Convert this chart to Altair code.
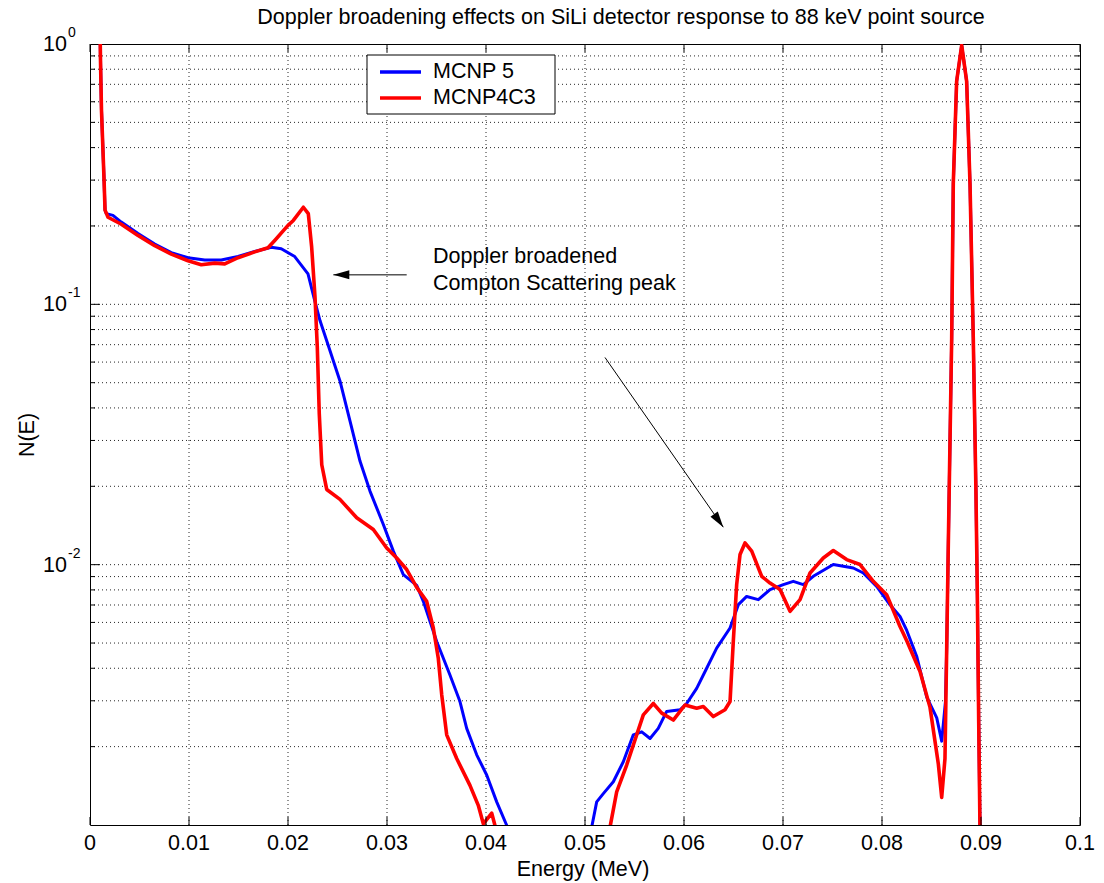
import altair as alt
import pandas as pd

FONT = "Liberation Sans"

# ---------------- data ----------------
title_text = "Doppler broadening effects on SiLi detector response to 88 keV point source"
x_title = "Energy (MeV)"
y_title = "N(E)"
series_names = ["MCNP 5", "MCNP4C3"]
series_colors = ["#0000ff", "#ff0000"]

# MCNP 5 (blue), two visible pieces
blue_x1 = [0.00098, 0.00106, 0.00116, 0.00141, 0.00152, 0.00165, 0.00232, 0.00316, 0.00485, 0.00654,
           0.00821, 0.00990, 0.01159, 0.01326, 0.01495, 0.01664, 0.01831, 0.01932, 0.02068, 0.02202,
           0.02270, 0.02323, 0.02391, 0.02525, 0.02626, 0.02727, 0.02828, 0.02963, 0.03064, 0.03165,
           0.03300, 0.03367, 0.03502, 0.03636, 0.03737, 0.03805, 0.03906, 0.04007, 0.04108, 0.04209,
           0.04242]
blue_y1 = [1.4, 0.868, 0.557, 0.308, 0.230, 0.223, 0.2196, 0.207, 0.187, 0.1705,
           0.158, 0.151, 0.148, 0.148, 0.1526, 0.1596, 0.1657, 0.1634, 0.1526, 0.131,
           0.1033, 0.0866, 0.0725, 0.0508, 0.0357, 0.0250, 0.01917, 0.01427, 0.01127, 0.00916,
           0.00833, 0.00723, 0.00507, 0.00377, 0.00298, 0.00235, 0.00186, 0.001556, 0.001227, 0.000998,
           0.0009]
blue_x2 = [0.05040, 0.05068, 0.05118, 0.05185, 0.05286, 0.05387, 0.05488, 0.05573, 0.05657, 0.05740,
           0.05825, 0.05960, 0.06027, 0.06128, 0.06229, 0.06330, 0.06465, 0.06549, 0.06633, 0.06751,
           0.06869, 0.07003, 0.07104, 0.07205, 0.07306, 0.07508, 0.07710, 0.07811, 0.07946, 0.08081,
           0.08182, 0.08250, 0.08350, 0.08452, 0.08553, 0.08603, 0.08641, 0.08654, 0.08670, 0.08687,
           0.08704, 0.08720, 0.08754, 0.08805, 0.08855, 0.08889, 0.08922, 0.08949, 0.08963, 0.08977,
           0.08990]
blue_y2 = [0.00088, 0.000983, 0.001227, 0.00132, 0.001466, 0.00175, 0.00222, 0.00228, 0.00215, 0.00235,
           0.00273, 0.00277, 0.00293, 0.00335, 0.0040, 0.00478, 0.00571, 0.00702, 0.00755, 0.00734,
           0.00802, 0.00838, 0.00863, 0.00838, 0.00902, 0.01001, 0.00971, 0.00929, 0.00825, 0.00701,
           0.00633, 0.00559, 0.00445, 0.0031, 0.00258, 0.0021, 0.00298, 0.00488, 0.01209, 0.02998,
           0.0743, 0.290, 0.719, 0.988, 0.719, 0.290, 0.0743, 0.01903, 0.00768, 0.00247,
           0.00095]

# MCNP4C3 (red), two visible pieces
red_x1 = [0.00098, 0.00106, 0.00116, 0.00141, 0.00152, 0.00182, 0.00316, 0.00485, 0.00654, 0.00821,
          0.00990, 0.01124, 0.01260, 0.01361, 0.01495, 0.01664, 0.01798, 0.01866, 0.02000, 0.02054,
          0.02155, 0.02205, 0.02239, 0.02273, 0.02296, 0.02316, 0.02341, 0.02391, 0.02525, 0.02694,
          0.02862, 0.02997, 0.03098, 0.03199, 0.03300, 0.03401, 0.03468, 0.03518, 0.03553, 0.03603,
          0.03704, 0.03838, 0.03922, 0.03973, 0.04058, 0.04108]
red_y1 = [1.4, 0.868, 0.557, 0.308, 0.230, 0.216, 0.203, 0.184, 0.168, 0.156,
          0.147, 0.142, 0.144, 0.143, 0.151, 0.159, 0.165, 0.176, 0.201, 0.210,
          0.236, 0.223, 0.166, 0.1064, 0.0683, 0.0379, 0.0242, 0.01945, 0.01782, 0.01514,
          0.01365, 0.01159, 0.01061, 0.00958, 0.00818, 0.00723, 0.00571, 0.00437, 0.00316, 0.00222,
          0.00180, 0.00142, 0.00119, 0.00101, 0.00111, 0.00094]
red_x2 = [0.05232, 0.05253, 0.05320, 0.05421, 0.05522, 0.05589, 0.05690, 0.05775, 0.05892, 0.06010,
          0.06128, 0.06195, 0.06296, 0.06414, 0.06465, 0.06498, 0.06532, 0.06566, 0.06616, 0.06684,
          0.06785, 0.06869, 0.06970, 0.07071, 0.07172, 0.07273, 0.07407, 0.07508, 0.07643, 0.07778,
          0.07912, 0.08047, 0.08182, 0.08250, 0.08384, 0.08485, 0.08569, 0.08603, 0.08636, 0.08654,
          0.08670, 0.08687, 0.08704, 0.08720, 0.08754, 0.08805, 0.08855, 0.08889, 0.08922, 0.08949,
          0.08963, 0.08977, 0.08990]
red_y2 = [0.0009, 0.000983, 0.00134, 0.00170, 0.00222, 0.00265, 0.00293, 0.00269, 0.00253, 0.00289,
          0.00281, 0.00285, 0.00261, 0.00277, 0.00298, 0.00507, 0.00838, 0.01094, 0.01212, 0.01127,
          0.00902, 0.0085, 0.00802, 0.00662, 0.00734, 0.00929, 0.01061, 0.01133, 0.01046, 0.01001,
          0.00863, 0.00767, 0.00579, 0.0051, 0.00389, 0.00283, 0.001716, 0.001277, 0.001797, 0.00488,
          0.01209, 0.02998, 0.0743, 0.290, 0.719, 0.988, 0.719, 0.290, 0.0743, 0.01903,
          0.00768, 0.00247, 0.00095]

x_ticks = [0.0, 0.01, 0.02, 0.03, 0.04, 0.05, 0.06, 0.07, 0.08, 0.09, 0.1]
x_tick_labels = ["0", "0.01", "0.02", "0.03", "0.04", "0.05", "0.06", "0.07", "0.08", "0.09", "0.1"]
x_grid = [0.01, 0.02, 0.03, 0.04, 0.05, 0.06, 0.07, 0.08, 0.09]
y_major = [1.0, 0.1, 0.01]
y_major_exp = ["0", "-1", "-2"]
y_minor = [0.002, 0.003, 0.004, 0.005, 0.006, 0.007, 0.008, 0.009,
           0.02, 0.03, 0.04, 0.05, 0.06, 0.07, 0.08, 0.09,
           0.2, 0.3, 0.4, 0.5, 0.6, 0.7, 0.8, 0.9]
y_grid = y_minor + [0.01, 0.1]

annot_text = ["Doppler broadened", "Compton Scattering peak"]
annot_x = [0.03465, 0.03465]
annot_y = [0.1518, 0.1198]

arrow_x1 = [0.03199, 0.05202]
arrow_y1 = [0.1298, 0.0625]
arrow_x2 = [0.02458, 0.06397]
arrow_y2 = [0.1298, 0.01393]
arrow_angle = [270, 145]

# ---------------- tables ----------------
def series_df(name, parts):
    rows = []
    i = 0
    for seg, (xs_, ys_) in enumerate(parts):
        for xv, yv in zip(xs_, ys_):
            rows.append({"x": xv, "y": yv, "s": name, "seg": f"{name}-{seg}", "i": i})
            i += 1
    return pd.DataFrame(rows)

blue_df = series_df(series_names[0], [(blue_x1, blue_y1), (blue_x2, blue_y2)])
red_df = series_df(series_names[1], [(red_x1, red_y1), (red_x2, red_y2)])

W, H = 990, 781
xs = alt.Scale(domain=[0, 0.1], nice=False, zero=False)
ys = alt.Scale(type="log", domain=[0.001, 1], nice=False)
cs = alt.Scale(domain=series_names, range=series_colors)

def X(f):
    return alt.X(f, scale=xs, axis=None)

def Y(f):
    return alt.Y(f, scale=ys, axis=None)

# ---- dotted grid ----
GRID = dict(color="#000000", strokeWidth=1, strokeDash=[1, 3], opacity=0.85)
grid_v = alt.Chart(pd.DataFrame({"v": x_grid})).mark_rule(**GRID).encode(
    x=X("v:Q"), y=alt.value(0), y2=alt.value(H))
grid_h = alt.Chart(pd.DataFrame({"v": y_grid})).mark_rule(**GRID).encode(
    y=Y("v:Q"), x=alt.value(0), x2=alt.value(W))

# ---- curves ----
blue_line = alt.Chart(blue_df).mark_line(clip=True, strokeWidth=3, strokeJoin="round").encode(
    x=X("x:Q"), y=Y("y:Q"),
    color=alt.Color("s:N", scale=cs, legend=None),
    detail="seg:N", order="i:Q",
)
red_line = alt.Chart(red_df).mark_line(clip=True, strokeWidth=3.6, strokeJoin="round").encode(
    x=X("x:Q"), y=Y("y:Q"),
    color=alt.Color("s:N", scale=cs, legend=None),
    detail="seg:N", order="i:Q",
)

# ---- MATLAB-style inward ticks on all four sides ----
xt_df = pd.DataFrame({"v": x_ticks, "t": x_tick_labels})
ymaj_df = pd.DataFrame({"v": [0.01, 0.1]})
ymin_df = pd.DataFrame({"v": y_minor})
TICK = dict(color="black", strokeWidth=1)
tick_layers = [
    alt.Chart(xt_df).mark_rule(**TICK).encode(x=X("v:Q"), y=alt.value(H), y2=alt.value(H - 8)),
    alt.Chart(xt_df).mark_rule(**TICK).encode(x=X("v:Q"), y=alt.value(0), y2=alt.value(8)),
    alt.Chart(ymaj_df).mark_rule(**TICK).encode(y=Y("v:Q"), x=alt.value(0), x2=alt.value(10)),
    alt.Chart(ymaj_df).mark_rule(**TICK).encode(y=Y("v:Q"), x=alt.value(W), x2=alt.value(W - 10)),
    alt.Chart(ymin_df).mark_rule(**TICK).encode(y=Y("v:Q"), x=alt.value(0), x2=alt.value(5)),
    alt.Chart(ymin_df).mark_rule(**TICK).encode(y=Y("v:Q"), x=alt.value(W), x2=alt.value(W - 5)),
]

# ---- tick labels ----
xlab = alt.Chart(xt_df).mark_text(align="center", baseline="middle", font=FONT, fontSize=21.5,
                                  color="black").encode(
    x=X("v:Q"), y=alt.value(H + 19), text="t:N")
ylab_df = pd.DataFrame({"v": y_major, "base": ["10"] * len(y_major), "e": y_major_exp})
ylab_base = alt.Chart(ylab_df).mark_text(align="right", baseline="middle", font=FONT,
                                         fontSize=21.5, color="black", dy=1).encode(
    y=Y("v:Q"), x=alt.value(-23), text="base:N")
ylab_exp = alt.Chart(ylab_df).mark_text(align="left", baseline="middle", font=FONT,
                                        fontSize=14, color="black", dy=-11).encode(
    y=Y("v:Q"), x=alt.value(-22), text="e:N")

# ---- annotations ----
ann_df = pd.DataFrame({"x": annot_x, "y": annot_y, "t": annot_text})
ann = alt.Chart(ann_df).mark_text(align="left", baseline="middle", font=FONT, fontSize=21.5,
                                  color="black").encode(x=X("x:Q"), y=Y("y:Q"), text="t:N")

arr_df = pd.DataFrame({"x1": arrow_x1, "y1": arrow_y1, "x2": arrow_x2, "y2": arrow_y2,
                       "ang": arrow_angle})
arr_line = alt.Chart(arr_df).mark_rule(color="black", strokeWidth=1).encode(
    x=X("x1:Q"), y=Y("y1:Q"), x2="x2:Q", y2="y2:Q")
arr_head = alt.Chart(arr_df).mark_point(shape="M0,0L0.28,1L-0.28,1Z", filled=True, size=1024,
                                        color="black", opacity=1, strokeWidth=0).encode(
    x=X("x2:Q"), y=Y("y2:Q"), angle=alt.Angle("ang:Q", scale=None))

# ---- legend box (MATLAB style, inside the axes) ----
one = pd.DataFrame({"a": [0]})
leg_box = alt.Chart(one).mark_rect(fill="white", stroke="black", strokeWidth=1).encode(
    x=alt.value(277), x2=alt.value(465), y=alt.value(11), y2=alt.value(70))
leg_layers = [leg_box]
for k, (nm, col) in enumerate(zip(series_names, series_colors)):
    yy = 28 + 26 * k
    leg_layers.append(alt.Chart(one).mark_rule(color=col, strokeWidth=3.5).encode(
        x=alt.value(290), x2=alt.value(331), y=alt.value(yy)))
    leg_layers.append(alt.Chart(pd.DataFrame({"t": [nm]})).mark_text(
        align="left", baseline="middle", font=FONT, fontSize=21.5, color="black").encode(
        x=alt.value(343), y=alt.value(yy), text="t:N"))

# ---- titles ----
title_mark = alt.Chart(pd.DataFrame({"t": [title_text]})).mark_text(
    align="center", baseline="middle", font=FONT, fontSize=21.5, color="black").encode(
    x=alt.value(531), y=alt.value(-26), text="t:N")
xt_mark = alt.Chart(pd.DataFrame({"t": [x_title]})).mark_text(
    align="center", baseline="middle", font=FONT, fontSize=21.5, color="black").encode(
    x=alt.value(493), y=alt.value(826), text="t:N")
yt_mark = alt.Chart(pd.DataFrame({"t": [y_title]})).mark_text(
    align="center", baseline="middle", font=FONT, fontSize=21.5, color="black", angle=270).encode(
    x=alt.value(-62), y=alt.value(391), text="t:N")

chart = alt.layer(
    grid_v, grid_h, blue_line, red_line, *tick_layers, xlab, ylab_base, ylab_exp, ann,
    arr_line, arr_head, *leg_layers, title_mark, xt_mark, yt_mark
).properties(
    width=W, height=H,
    autosize=alt.AutoSizeParams(type="none"),
    padding={"left": 90, "top": 44, "right": 24, "bottom": 58},
    background="white",
).configure_view(stroke="black", strokeWidth=1)

chart.save("out.html", embed_options={"renderer": "svg", "actions": False})
